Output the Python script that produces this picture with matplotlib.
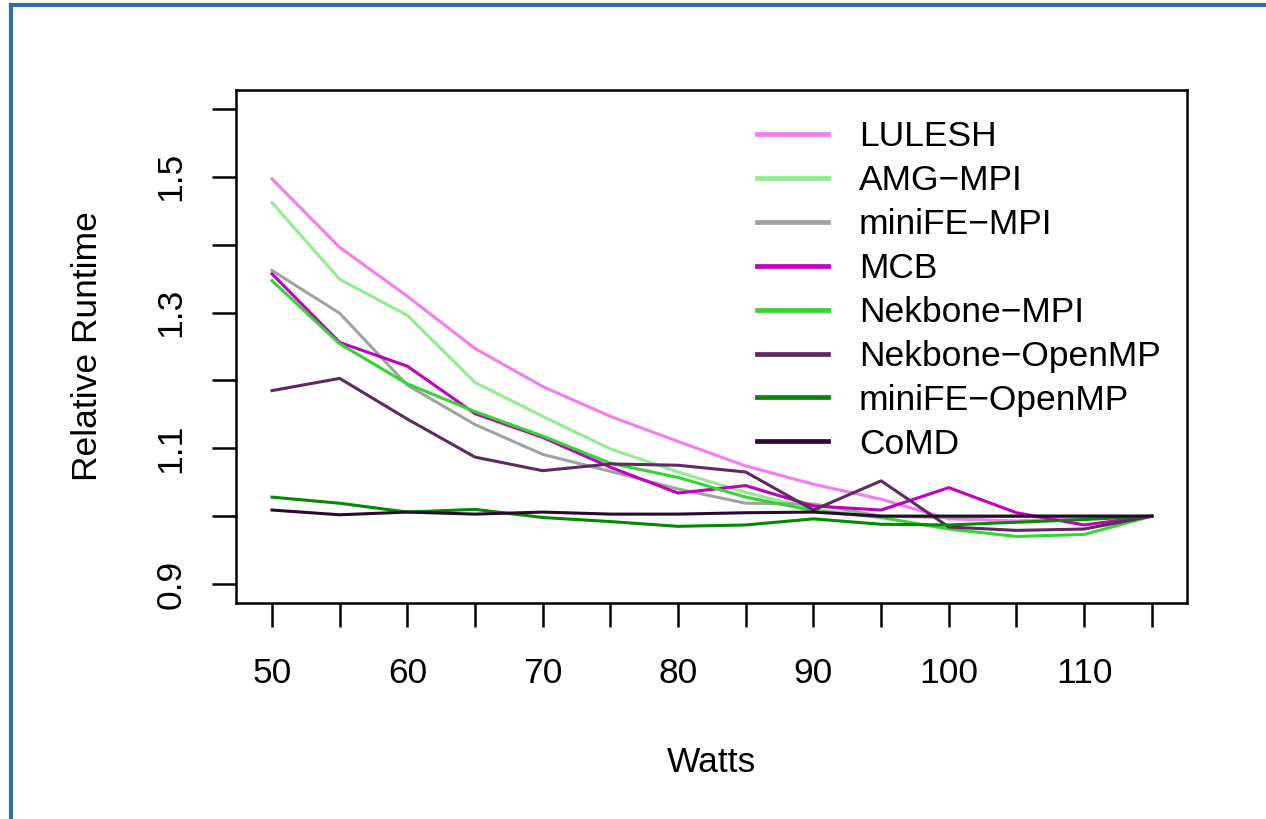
import matplotlib
matplotlib.use("Agg")
import matplotlib.pyplot as plt
from matplotlib.lines import Line2D

plt.rcParams['font.family'] = ['Liberation Sans', 'DejaVu Sans']

# data
watts = [50, 55, 60, 65, 70, 75, 80, 85, 90, 95, 100, 105, 110, 115]

lulesh     = [1.497, 1.396, 1.324, 1.247, 1.191, 1.147, 1.110, 1.074, 1.047, 1.025, 0.996, 0.993, 0.998, 1.0]
amg_mpi    = [1.462, 1.349, 1.296, 1.197, 1.147, 1.099, 1.065, 1.035, 1.010, 1.000, 1.000, 1.000, 1.000, 1.0]
minife_mpi = [1.362, 1.299, 1.193, 1.135, 1.091, 1.066, 1.040, 1.019, 1.018, 1.000, 0.998, 1.000, 1.000, 1.0]
mcb        = [1.357, 1.256, 1.221, 1.151, 1.116, 1.072, 1.034, 1.045, 1.015, 1.009, 1.042, 1.005, 0.987, 1.0]
nek_mpi    = [1.347, 1.254, 1.195, 1.154, 1.118, 1.078, 1.057, 1.028, 1.008, 0.998, 0.981, 0.970, 0.973, 1.0]
nek_omp    = [1.185, 1.203, 1.143, 1.087, 1.067, 1.077, 1.075, 1.065, 1.009, 1.052, 0.984, 0.979, 0.981, 1.0]
minife_omp = [1.028, 1.019, 1.006, 1.010, 0.998, 0.992, 0.985, 0.987, 0.996, 0.988, 0.987, 0.991, 0.995, 1.0]
comd       = [1.009, 1.002, 1.006, 1.003, 1.006, 1.003, 1.003, 1.005, 1.006, 1.000, 1.000, 1.000, 1.000, 1.0]

names = ['LULESH', 'AMG\u2212MPI', 'miniFE\u2212MPI', 'MCB', 'Nekbone\u2212MPI',
         'Nekbone\u2212OpenMP', 'miniFE\u2212OpenMP', 'CoMD']
series = [lulesh, amg_mpi, minife_mpi, mcb, nek_mpi, nek_omp, minife_omp, comd]
colors = ['#F57CF0', '#90EE90', '#9EA59E', '#C000C0', '#32D632',
          '#5E2A62', '#008B00', '#2A0A2E']

fig = plt.figure(figsize=(12.66, 8.19), dpi=100)
ax = fig.add_axes([236/1266, 1 - 603/819, (1187-236)/1266, (603-90)/819])

for vals, c, n in zip(series, colors, names):
    ax.plot(watts, vals, color=c, lw=2.2, label=n)

ax.set_xlim(47.34, 117.6)
ax.set_ylim(0.872, 1.628)

ax.set_xticks(range(50, 116, 5))
ax.set_xticklabels([str(w) if w % 10 == 0 else '' for w in range(50, 116, 5)])
yt = [0.9, 1.0, 1.1, 1.2, 1.3, 1.4, 1.5, 1.6]
ax.set_yticks(yt)
ax.set_yticklabels(['0.9', '', '1.1', '', '1.3', '', '1.5', ''], rotation=90, va='center')

ax.tick_params(length=17, width=1.8, labelsize=25.5)
ax.tick_params(axis='x', pad=22)
ax.tick_params(axis='y', pad=18)
for s in ax.spines.values():
    s.set_linewidth(1.8)

ax.set_xlabel('Watts', fontsize=25.5, labelpad=40)
ax.set_ylabel('Relative Runtime', fontsize=25.5, labelpad=36)

leg = ax.legend(loc='upper left', bbox_to_anchor=(757/1266, 1 - 120/819),
                bbox_transform=fig.transFigure, frameon=False, fontsize=25.5,
                handlelength=2.0, handletextpad=0.88, labelspacing=0.31,
                borderpad=0, borderaxespad=0)
for h in leg.get_lines():
    h.set_linewidth(3.4)

# blue frame around the figure (only top and left visible)
fig.add_artist(Line2D([11/1266, 11/1266], [0, 1 - 5/819], color='#2F6FA3', lw=3, transform=fig.transFigure))
fig.add_artist(Line2D([11/1266, 1], [1 - 5/819, 1 - 5/819], color='#2F6FA3', lw=3, transform=fig.transFigure))

fig.savefig('out.png', dpi=100)
